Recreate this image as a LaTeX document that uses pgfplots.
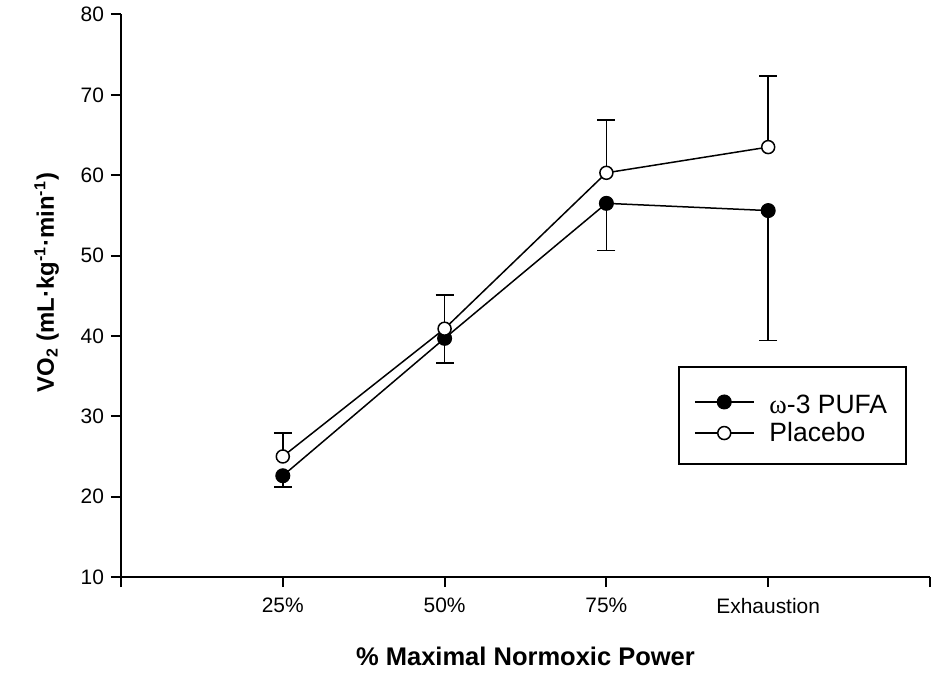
\documentclass[border=0pt]{standalone}
\usepackage{pgfplots}
\pgfplotsset{compat=1.18}
\usepackage{fontspec}
\setmainfont{Liberation Sans}
\newfontfamily\symfont{Liberation Serif}

\begin{document}
\begin{tikzpicture}
\path[use as bounding box] (-60.5bp,-48bp) rectangle (408.5bp,288.5bp);
\begin{axis}[
    at={(0,0)}, anchor=south west,
    scale only axis, width=404.5bp, height=281.25bp,
    xmin=0, xmax=5, ymin=10, ymax=80,
    axis x line*=bottom, axis y line*=left,
    axis line style={line width=1bp},
    xtick={0,1,2,3,4,5},
    xticklabels={,25\%,50\%,75\%,Exhaustion,},
    ytick={10,20,...,80},
    tick align=outside, major tick length=5bp,
    tick style={line width=1bp, black},
    ticklabel style={font=\fontsize{10.5}{12.5}\selectfont},
    xticklabel style={yshift=-2bp},
    /pgf/number format/assume math mode=true,
    xlabel={\% Maximal Normoxic Power},
    xlabel style={font=\bfseries\fontsize{12.8}{15}\selectfont,
        at={(axis description cs:0.5,0)}, anchor=base, yshift=-44bp},
    ylabel={VO\textsubscript{2} (mL·kg\textsuperscript{-1}·min\textsuperscript{-1})},
    ylabel style={font=\bfseries\fontsize{12}{14}\selectfont,
        at={(axis description cs:0,0.5)}, anchor=base, yshift=33.5bp, xshift=6.5bp},
    clip=false,
    legend style={at={(axis description cs:0.6885,0.3751)}, anchor=north west,
        draw=black, line width=1bp, font=\fontsize{13.3}{15}\selectfont,
        inner xsep=7.5bp, inner ysep=8bp, row sep=-1.5bp, column sep=5.5bp},
    legend cell align=left,
    legend image code/.code={
        \draw[mark repeat=2,mark phase=2,#1] plot coordinates {(0bp,0bp) (14.75bp,0bp) (29.5bp,0bp)};
    },
]
% omega-3 PUFA, lower SE only
\addplot[black, line width=0.75bp, mark=*, mark size=3.5bp, mark options={fill=black, line width=0.5bp},
    error bars/.cd, y dir=minus, y explicit,
    error bar style={line width=0.75bp},
    error mark options={rotate=90, mark size=4.5bp, line width=0.75bp}]
    coordinates {(1,22.6) +- (0,1.4) (2,39.7) +- (0,3.1) (3,56.5) +- (0,5.9) (4,55.6) +- (0,16.2)};
% placebo, upper SE only
\addplot[black, line width=0.75bp, mark=*, mark size=3.25bp, mark options={fill=white, line width=0.75bp},
    error bars/.cd, y dir=plus, y explicit,
    error bar style={line width=0.75bp},
    error mark options={rotate=90, mark size=4.5bp, line width=0.75bp}]
    coordinates {(1,25.0) +- (0,2.9) (2,40.9) +- (0,4.2) (3,60.3) +- (0,6.6) (4,63.5) +- (0,8.85)};
\legend{\rule{0pt}{13.5bp}{\symfont ω}-3 PUFA, Placebo}
\end{axis}
\end{tikzpicture}
\end{document}
